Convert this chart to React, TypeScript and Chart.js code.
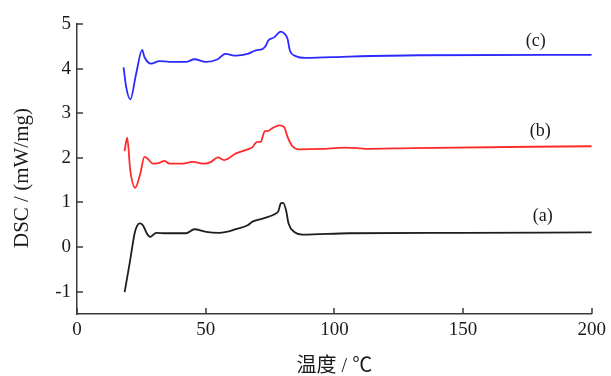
import React, { useEffect, useRef } from "react";
import { Chart, registerables } from "chart.js";

Chart.register(...registerables);

// ---- data ----
const tempA = [18.5, 20.5, 22.4, 23.3, 24.3, 25.6, 27.1, 28.4, 30.8, 34.7, 42.4, 45.6, 50.2, 55.3, 61.8, 66.3, 68.2, 72.1, 77.3, 78.2, 79.2, 80.1, 81.2, 82.2, 84.4, 87.6, 105.7, 150, 200];
const dscA = [-1.01, -0.35, 0.31, 0.47, 0.53, 0.49, 0.31, 0.23, 0.32, 0.31, 0.31, 0.4, 0.34, 0.32, 0.4, 0.49, 0.57, 0.64, 0.75, 0.8, 0.98, 0.99, 0.83, 0.53, 0.34, 0.28, 0.31, 0.32, 0.33];

const tempB = [18.5, 19.5, 20.7, 22.6, 24.6, 26.2, 27.5, 29.5, 32, 34, 35.9, 40.5, 45, 49.5, 52.1, 54.7, 57.2, 61.8, 66.3, 68.2, 69.3, 70.2, 71.5, 72.1, 73, 74, 76, 78.6, 80.5, 81.8, 83.7, 86.3, 95, 104, 109, 112, 130, 200];
const dscB = [2.15, 2.45, 1.72, 1.33, 1.65, 2.02, 1.98, 1.87, 1.89, 1.93, 1.87, 1.87, 1.91, 1.87, 1.91, 2.01, 1.95, 2.1, 2.19, 2.24, 2.33, 2.36, 2.36, 2.47, 2.6, 2.6, 2.67, 2.73, 2.69, 2.47, 2.26, 2.19, 2.2, 2.23, 2.22, 2.2, 2.22, 2.26];

const tempC = [18.1, 19.1, 20.7, 23, 25.3, 26.2, 28.8, 32, 35.9, 42.4, 45.6, 50.2, 54.7, 57.6, 61.8, 66.3, 69.5, 72.1, 73.4, 74.3, 76.6, 79.2, 80.7, 81.8, 82.7, 85, 88.9, 105.7, 132.8, 200];
const dscC = [4.03, 3.59, 3.31, 3.89, 4.42, 4.26, 4.11, 4.17, 4.15, 4.15, 4.21, 4.15, 4.21, 4.33, 4.29, 4.33, 4.41, 4.44, 4.52, 4.63, 4.7, 4.83, 4.78, 4.67, 4.41, 4.28, 4.24, 4.27, 4.3, 4.31];

const xTicks = [0, 50, 100, 150, 200];
const yTicks = [-1, 0, 1, 2, 3, 4, 5];

const curveLabels = ["(a)", "(b)", "(c)"];
const curveLabelX = [181, 180, 178.2];
const curveLabelY = [0.68, 2.6, 4.62];

const xTitle = "温度 / ℃";
const yTitle = "DSC / (mW/mg)";

const AXIS_COLOR = "#3a3a3a";
const TEXT_COLOR = "#1a1a1a";
const SERIF = "'Liberation Serif', 'Times New Roman', 'Noto Sans CJK SC', serif";

const toPoints = (xs: number[], ys: number[]) => xs.map((x, i) => ({ x, y: ys[i] }));

const decorPlugin = {
  id: "decor",
  afterDraw(chart: any) {
    const { ctx, chartArea, scales } = chart;
    const xs = scales.x;
    const ys = scales.y;
    ctx.save();
    // inward tick marks
    ctx.strokeStyle = AXIS_COLOR;
    ctx.lineWidth = 1.5;
    ctx.beginPath();
    xTicks.forEach((v) => {
      const px = Math.round(xs.getPixelForValue(v));
      ctx.moveTo(px, chartArea.bottom);
      ctx.lineTo(px, chartArea.bottom - 6);
    });
    yTicks.forEach((v) => {
      const py = Math.round(ys.getPixelForValue(v));
      ctx.moveTo(chartArea.left, py);
      ctx.lineTo(chartArea.left + 6, py);
    });
    ctx.stroke();

    // curve labels
    ctx.fillStyle = TEXT_COLOR;
    ctx.font = `18px ${SERIF}`;
    ctx.textAlign = "center";
    ctx.textBaseline = "middle";
    curveLabels.forEach((t, i) => {
      ctx.fillText(t, xs.getPixelForValue(curveLabelX[i]), ys.getPixelForValue(curveLabelY[i]));
    });

    // y axis title
    ctx.font = `21px ${SERIF}`;
    ctx.translate(22, 178);
    ctx.rotate(-Math.PI / 2);
    ctx.fillText(yTitle, 0, 0);
    ctx.restore();
  },
};

export default function App() {
  const ref = useRef<HTMLCanvasElement | null>(null);

  useEffect(() => {
    if (!ref.current) return;
    const lineDs = (label: string, xs: number[], ys: number[], color: string) => ({
      label,
      data: toPoints(xs, ys),
      borderColor: color,
      backgroundColor: color,
      borderWidth: 1.8,
      pointRadius: 0,
      cubicInterpolationMode: "monotone" as const,
      fill: false,
    });
    const chart = new Chart(ref.current, {
      type: "line",
      data: {
        datasets: [
          lineDs("(a)", tempA, dscA, "#1e1e1e"),
          lineDs("(b)", tempB, dscB, "#ff2a2a"),
          lineDs("(c)", tempC, dscC, "#2a2aff"),
        ],
      },
      options: {
        animation: false,
        responsive: false,
        maintainAspectRatio: false,
        layout: { padding: { left: 0, right: 18, top: 24, bottom: 0 } },
        plugins: { legend: { display: false }, tooltip: { enabled: false } },
        scales: {
          x: {
            type: "linear",
            min: 0,
            max: 200,
            afterBuildTicks: (s: any) => {
              s.ticks = xTicks.map((v) => ({ value: v }));
            },
            afterFit: (s: any) => {
              s.height = 62;
            },
            grid: { display: false, drawTicks: false },
            border: { display: true, color: AXIS_COLOR, width: 1.5 },
            ticks: {
              padding: 5,
              color: TEXT_COLOR,
              font: { family: SERIF, size: 19 },
              maxRotation: 0,
            },
            title: {
              display: true,
              text: xTitle,
              color: TEXT_COLOR,
              font: { family: SERIF, size: 20 },
              padding: { top: 0, bottom: -3 },
            },
          },
          y: {
            type: "linear",
            min: -1.5,
            max: 5,
            afterBuildTicks: (s: any) => {
              s.ticks = yTicks.map((v) => ({ value: v }));
            },
            afterFit: (s: any) => {
              s.width = 77;
            },
            grid: { display: false, drawTicks: false },
            border: { display: true, color: AXIS_COLOR, width: 1.5 },
            ticks: {
              padding: 6,
              color: TEXT_COLOR,
              font: { family: SERIF, size: 19 },
            },
          },
        },
      },
      plugins: [decorPlugin],
    });
    return () => chart.destroy();
  }, []);

  return (
    <div style={{ position: "fixed", left: 0, top: 0, width: 611, height: 376, background: "#fff" }}>
      <canvas ref={ref} width={611} height={376} style={{ display: "block" }} />
    </div>
  );
}
